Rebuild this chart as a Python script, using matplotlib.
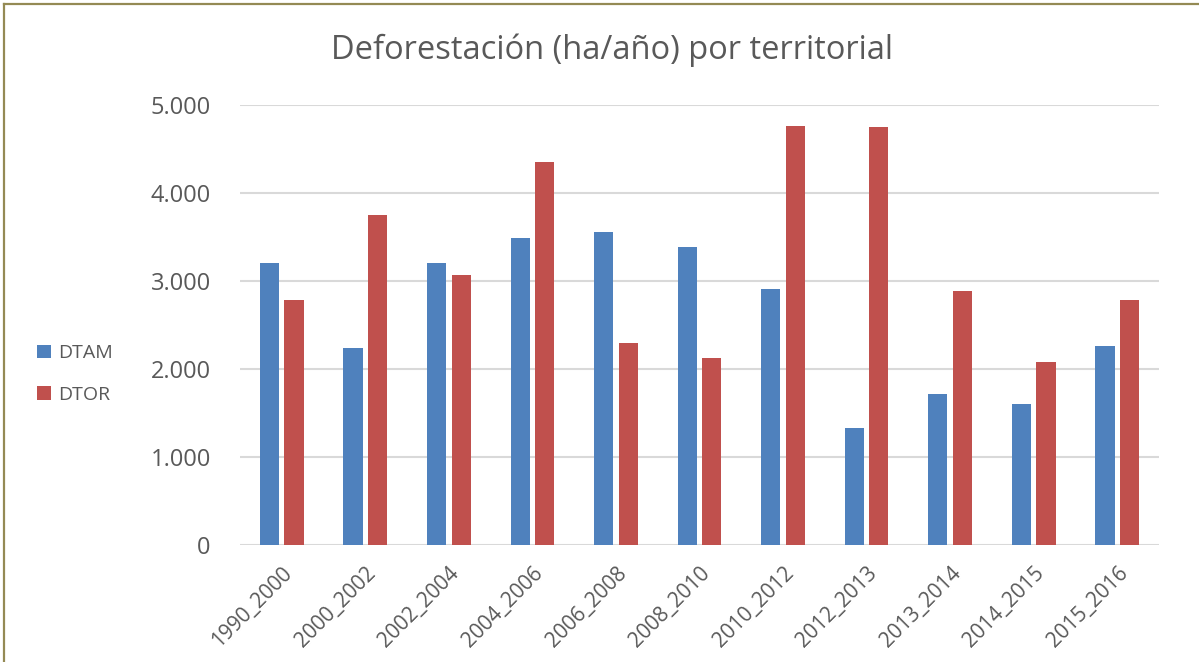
import numpy as np
import matplotlib
matplotlib.use("Agg")
import matplotlib.pyplot as plt
from matplotlib.ticker import FuncFormatter
from matplotlib.lines import Line2D

plt.rcParams['font.family'] = ['Open Sans', 'DejaVu Sans']

# Deforestación por periodo (ha/año)
periodos = ["1990_2000", "2000_2002", "2002_2004", "2004_2006", "2006_2008",
            "2008_2010", "2010_2012", "2012_2013", "2013_2014", "2014_2015",
            "2015_2016"]
dtam = [3208, 2242, 3208, 3492, 3561, 3390, 2905, 1322, 1708, 1598, 2261]
dtor = [2784, 3750, 3072, 4348, 2299, 2121, 4758, 4754, 2883, 2072, 2777]

AZUL = "#4F81BD"
ROJO = "#C0504D"
GRIS_TXT = "#595959"
GRIS_GRID = "#D9D9D9"

W, H = 1199, 662
fig = plt.figure(figsize=(W / 100, H / 100), dpi=100)
ax = fig.add_axes([240 / W, 1 - 544.7 / H, (1159 - 240) / W, (544.7 - 105) / H])

x = np.arange(len(periodos))
ancho = 0.23
b1 = ax.bar(x - 0.147, dtam, width=ancho, color=AZUL, label="DTAM", zorder=3)
b2 = ax.bar(x + 0.147, dtor, width=ancho, color=ROJO, label="DTOR", zorder=3)

ax.set_xlim(-0.5, len(periodos) - 0.5)
ax.set_ylim(0, 5000)
ax.set_yticks(np.arange(0, 5001, 1000))
ax.yaxis.set_major_formatter(FuncFormatter(lambda v, p: f"{int(v):,}".replace(",", ".")))
ax.grid(axis="y", color=GRIS_GRID, linewidth=1.5, zorder=0)
ax.set_axisbelow(True)
for s in ax.spines.values():
    s.set_visible(False)

ax.set_xticks(x)
ax.set_xticklabels(periodos, rotation=45, ha="right", rotation_mode="anchor")
ax.tick_params(axis="x", length=0, pad=13, labelsize=15, labelcolor=GRIS_TXT)
ax.tick_params(axis="y", length=0, pad=21, labelsize=17, labelcolor=GRIS_TXT)

fig.text(612 / W, 1 - 50 / H, "Deforestación (ha/año) por territorial",
         ha="center", va="center", fontsize=23.5, color=GRIS_TXT)

fig.legend(handles=[b1, b2], loc="center left",
           bbox_to_anchor=(37 / W, 1 - 374 / H), frameon=False,
           fontsize=14, labelcolor=GRIS_TXT, handlelength=0.7, handleheight=0.7,
           handletextpad=0.4, labelspacing=1.2, borderpad=0, borderaxespad=0)

# marco del gráfico
borde = "#948A54"
fig.add_artist(Line2D([3.5 / W, 3.5 / W], [0, 1 - 3.5 / H], transform=fig.transFigure,
                      color=borde, linewidth=1.6))
fig.add_artist(Line2D([3.5 / W, 1], [1 - 3.5 / H, 1 - 3.5 / H], transform=fig.transFigure,
                      color=borde, linewidth=1.6))

fig.savefig("out.png", dpi=100)
